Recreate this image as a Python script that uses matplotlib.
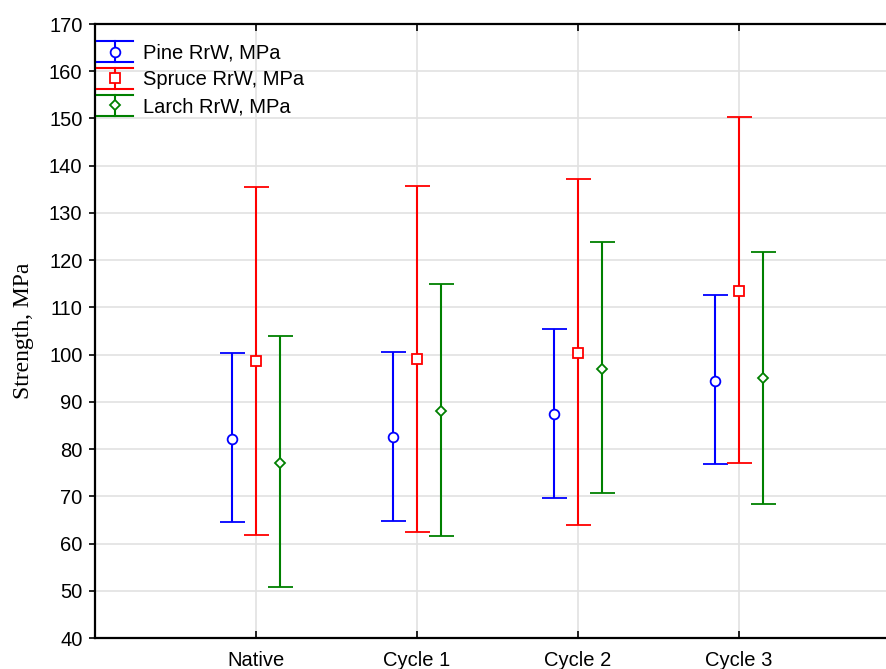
import matplotlib
matplotlib.use("Agg")
import numpy as np
import matplotlib.pyplot as plt
from matplotlib.lines import Line2D
from matplotlib.legend_handler import HandlerBase

# values (mean, lower and upper whisker)
categories = ["Native", "Cycle 1", "Cycle 2", "Cycle 3"]

pine_mean = [82.2, 82.6, 87.4, 94.4]
pine_low = [64.6, 64.7, 69.6, 76.8]
pine_high = [100.3, 100.5, 105.4, 112.6]

spruce_mean = [98.7, 99.1, 100.4, 113.5]
spruce_low = [61.9, 62.4, 63.9, 77.0]
spruce_high = [135.4, 135.7, 137.1, 150.4]

larch_mean = [77.1, 88.1, 97.0, 95.0]
larch_low = [50.7, 61.7, 70.6, 68.4]
larch_high = [104.0, 115.0, 123.8, 121.8]

plt.rcParams["font.family"] = ["Liberation Sans", "DejaVu Sans"]


class ErrorbarHandle(HandlerBase):
    """Legend key: vertical bar with wide caps and a hollow marker."""

    def __init__(self, color, marker, msize):
        super().__init__()
        self.color = color
        self.marker = marker
        self.msize = msize

    def create_artists(self, legend, orig_handle, xdescent, ydescent,
                       width, height, fontsize, trans):
        cx = width / 2 - xdescent
        cy = height / 2 - ydescent
        half = height * 0.75
        lw = 1.5
        top = Line2D([-xdescent, width - xdescent], [cy + half, cy + half], color=self.color, lw=lw)
        bot = Line2D([-xdescent, width - xdescent], [cy - half, cy - half], color=self.color, lw=lw)
        vert = Line2D([cx, cx], [cy - half, cy + half], color=self.color, lw=lw)
        mk = Line2D([cx], [cy], marker=self.marker, markersize=self.msize, color=self.color,
                    markerfacecolor="white", markeredgewidth=1.3, linestyle="none")
        arts = [top, bot, vert, mk]
        for a in arts:
            a.set_transform(trans)
        return arts


fig = plt.figure(figsize=(8.86, 6.69), dpi=100)
ax = fig.add_axes([95 / 886, 1 - 638 / 669, 805 / 886, (638 - 24) / 669])

x = np.arange(1, len(categories) + 1)
series = [
    ("Pine RrW, MPa", pine_mean, pine_low, pine_high, "#0000ff", "o", 7, -0.15),
    ("Spruce RrW, MPa", spruce_mean, spruce_low, spruce_high, "#ff0000", "s", 6.5, 0.0),
    ("Larch RrW, MPa", larch_mean, larch_low, larch_high, "#008000", "D", 5, 0.15),
]

handles, labels, hmap = [], [], {}
for name, mean, low, high, col, mk, ms, off in series:
    mean = np.array(mean)
    yerr = [mean - np.array(low), np.array(high) - mean]
    ax.errorbar(x + off, mean, yerr=yerr, fmt=mk, color=col, ecolor=col,
                markersize=ms, markerfacecolor="white", markeredgewidth=1.3,
                elinewidth=1.5, capsize=9, capthick=1.5, zorder=3)
    proxy = Line2D([], [], color=col)
    handles.append(proxy)
    labels.append(name)
    hmap[proxy] = ErrorbarHandle(col, mk, ms)

ax.set_xlim(0, 5)
ax.set_ylim(40, 170)
ax.set_xticks(x)
ax.set_xticklabels(categories)
ax.set_yticks(np.arange(40, 171, 10))
ax.grid(True, color="#e2e2e2", linewidth=1.2, zorder=0)
ax.set_axisbelow(True)

ax.tick_params(axis="x", direction="in", top=True, length=5, width=1.2, labelsize=14.5, pad=9)
ax.tick_params(axis="y", direction="out", length=4, width=1.2, labelsize=14.5, pad=5)
for s in ["left", "bottom", "top"]:
    ax.spines[s].set_linewidth(1.6)
ax.spines["right"].set_visible(False)

ax.set_ylabel("Strength, MPa", family=["Liberation Serif", "DejaVu Serif"], fontsize=17, labelpad=11)

ax.legend(handles, labels, handler_map=hmap, loc="upper left", bbox_to_anchor=(0.0, 0.971),
          frameon=False, fontsize=14.5, handlelength=1.8, handleheight=0.7,
          labelspacing=0.38, borderaxespad=0.0, borderpad=0.1, handletextpad=0.5)

fig.savefig("out.png", dpi=100)
